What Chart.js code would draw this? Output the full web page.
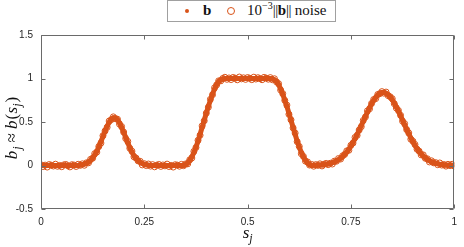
<!DOCTYPE html>
<html>
<head>
<meta charset="utf-8">
<script src="https://cdn.jsdelivr.net/npm/chart.js@4/dist/chart.umd.min.js"></script>
<style>
  html, body { margin: 0; padding: 0; background: #fff; }
  #wrap { position: relative; width: 464px; height: 247px; }
  #legend {
    position: absolute; left: 167px; top: 0px; width: 169px; height: 22px;
    box-sizing: border-box; border: 1px solid #a0a0a0; background: #fff;
    font-family: "Liberation Serif", "DejaVu Serif", serif; font-size: 15px; color: #111;
    white-space: nowrap; z-index: 2;
  }
  #legend span.t { position: absolute; top: 1px; }
  .dot { position: absolute; width: 4px; height: 4px; border-radius: 50%; background: #D95319; left: 17px; top: 8px; }
  .circ { position: absolute; width: 6px; height: 6px; border-radius: 50%; border: 1.3px solid #D95319; left: 59px; top: 6px; }
  sup { font-size: 10px; vertical-align: 6px; line-height: 0; }
  .bar { letter-spacing: -0.5px; }
</style>
</head>
<body>
<div id="wrap">
  <canvas id="c" width="464" height="247"></canvas>
  <div id="legend">
    <div class="dot"></div><span class="t" style="left:35px;font-weight:bold;">b</span>
    <div class="circ"></div><span class="t" style="left:79px;">10<sup>−3</sup><span class="bar">||</span><b>b</b><span class="bar">||</span> noise</span>
  </div>
</div>
<script>
// sample points s_j
const sVals = [
0.000,0.005,0.010,0.015,0.020,0.025,0.030,0.035,0.040,0.045,0.050,0.055,0.060,0.065,0.070,0.075,0.080,0.085,0.090,
0.095,0.100,0.105,0.110,0.115,0.120,0.125,0.130,0.135,0.140,0.145,0.150,0.155,0.160,0.165,0.170,0.175,0.180,0.185,0.190,
0.195,0.200,0.205,0.210,0.215,0.220,0.225,0.230,0.235,0.240,0.245,0.250,0.255,0.260,
0.265,0.270,0.275,0.280,0.285,0.290,0.295,0.300,0.305,0.310,0.315,0.320,0.325,0.330,0.335,0.340,0.345,
0.350,0.355,0.360,0.365,0.370,0.375,0.380,0.385,0.390,0.395,0.400,0.405,0.410,0.415,0.420,0.425,0.430,0.435,0.440,
0.445,0.450,0.455,0.460,0.465,0.470,0.475,0.480,0.485,0.490,0.495,0.500,0.505,0.510,0.515,0.520,0.525,0.530,0.535,0.540,0.545,0.550,0.555,
0.560,0.565,0.570,0.575,0.580,0.585,0.590,0.595,0.600,0.605,0.610,0.615,0.620,0.625,0.630,0.635,0.640,0.645,0.650,
0.655,
0.660,0.665,0.670,0.675,0.680,0.685,0.690,0.695,0.700,0.705,0.710,0.715,0.720,0.725,0.730,0.735,0.740,0.745,0.750,0.755,
0.760,0.765,0.770,0.775,0.780,0.785,0.790,0.795,0.800,0.805,0.810,0.815,0.820,0.825,0.830,0.835,0.840,0.845,0.850,0.855,
0.860,0.865,0.870,0.875,0.880,0.885,0.890,0.895,0.900,0.905,0.910,0.915,0.920,0.925,0.930,0.935,0.940,0.945,0.950,0.955,
0.960,0.965,0.970,0.975,0.980,0.985,0.990,0.995,1.000
];
// exact values b
const bVals = [
0,0,0,0,0,0,0,0,0,0,0,0,0,0,0,0,0,0,0,
0.006,0.009,0.016,0.025,0.039,0.059,0.086,0.121,0.164,0.215,0.273,0.334,0.395,0.451,0.498,0.532,0.548,0.547,0.526,0.490,
0.440,0.383,0.321,0.261,0.204,0.155,0.113,0.080,0.055,0.036,0.023,0.014,0.008,0.004,
0,0,0,0,0,0,0,0,0,0,0,0,0,0,0,0,0,
0.01,0.03,0.06,0.10,0.15,0.21,0.28,0.36,0.44,0.52,0.60,0.68,0.75,0.82,0.88,0.93,0.965,0.985,0.995,
1,1,1,1,1,1,1,1,1,1,1,1,1,1,1,1,1,1,1,1,1,1,1,
0.995,0.985,0.965,0.93,0.88,0.82,0.75,0.68,0.60,0.52,0.44,0.36,0.28,0.21,0.15,0.10,0.06,0.03,0.01,
0,
0.002,0.003,0.004,0.005,0.007,0.010,0.013,0.018,0.024,0.032,0.041,0.053,0.067,0.084,0.105,0.129,0.156,0.188,0.224,0.264,
0.308,0.355,0.405,0.457,0.509,0.562,0.614,0.663,0.709,0.749,0.783,0.810,0.828,0.838,0.839,0.831,0.814,0.789,0.756,0.717,
0.673,0.624,0.573,0.520,0.467,0.415,0.365,0.317,0.273,0.232,0.195,0.163,0.134,0.109,0.088,0.070,0.055,0.043,0.033,0.025,
0.019,0.014,0.011,0.008,0.006,0.004,0.003,0.002,0.002
];
// noisy values (b + 1e-3*||b|| noise)
const noisyVals = [
0.008,-0.012,0.004,-0.018,0.011,0.002,-0.006,0.015,-0.009,0.001,-0.014,0.007,0.012,-0.003,-0.016,0.009,0.005,-0.011,0.014,
0.002,0.019,0.003,0.031,0.031,0.071,0.084,0.136,0.154,0.219,0.258,0.343,0.397,0.439,0.511,0.527,0.559,0.538,0.532,0.476,
0.448,0.384,0.310,0.277,0.198,0.165,0.100,0.085,0.053,0.048,0.007,0.021,-0.001,0.017,
-0.007,0.010,-0.015,0.003,0.012,-0.010,0.006,-0.004,0.016,-0.012,0.001,-0.018,0.009,0.004,-0.008,0.013,-0.002,
0.018,0.019,0.065,0.086,0.162,0.207,0.289,0.348,0.455,0.514,0.602,0.670,0.761,0.813,0.893,0.926,0.973,0.973,1.001,
1.014,0.991,1.006,0.988,1.012,1.003,0.985,1.017,0.996,1.008,0.990,1.011,1.002,0.987,1.015,0.994,1.009,0.998,0.986,1.013,1.004,0.992,1.010,
0.986,0.997,0.961,0.940,0.867,0.827,0.748,0.694,0.589,0.525,0.432,0.373,0.274,0.219,0.135,0.104,0.050,0.041,0.005,
0.012,
-0.008,0.010,0.001,0.019,-0.005,0.015,0.024,0.010,0.026,0.017,0.050,0.049,0.080,0.074,0.111,0.128,0.168,0.175,0.232,0.258,
0.323,0.346,0.408,0.446,0.519,0.557,0.628,0.651,0.713,0.758,0.769,0.816,0.826,0.849,0.831,0.844,0.804,0.790,0.768,0.710,
0.660,0.632,0.578,0.509,0.481,0.412,0.374,0.302,0.279,0.242,0.187,0.165,0.122,0.122,0.083,0.077,0.041,0.054,0.031,0.033,
0.009,0.029,0.005,0.011,-0.007,0.013,-0.001,0.014,-0.007
];
const xTickVals = [0, 0.25, 0.5, 0.75, 1];
const xTickLabels = ['0', '0.25', '0.5', '0.75', '1'];
const yTickVals = [-0.5, 0, 0.5, 1, 1.5];
const yTickLabels = ['-0.5', '0', '0.5', '1', '1.5'];

const ORANGE = '#D95319';
const AXIS = '#6a6a6a';

function drawRuns(ctx, runs, x, y) {
  // runs: [text, font, dy, extraGapAfter]
  let total = 0;
  runs.forEach(r => { ctx.font = r[1]; total += ctx.measureText(r[0]).width + (r[3] || 0); });
  let cx = x - total / 2;
  runs.forEach(r => {
    ctx.font = r[1];
    ctx.fillText(r[0], cx, y + (r[2] || 0));
    cx += ctx.measureText(r[0]).width + (r[3] || 0);
  });
}

const frame = {
  id: 'frame',
  afterDraw(chart) {
    const {ctx, chartArea: a, scales} = chart;
    const L = Math.round(a.left) + 0.5, R = Math.round(a.right) - 0.5;
    const T = Math.round(a.top) + 0.5, B = Math.round(a.bottom) - 0.5;
    ctx.save();
    ctx.strokeStyle = AXIS; ctx.lineWidth = 1;
    ctx.beginPath();
    ctx.rect(L, T, R - L, B - T);
    const tl = 4;
    xTickVals.forEach(v => {
      const px = Math.round(scales.x.getPixelForValue(v)) + 0.5;
      ctx.moveTo(px, B); ctx.lineTo(px, B - tl);
      ctx.moveTo(px, T); ctx.lineTo(px, T + tl);
    });
    yTickVals.forEach(v => {
      const py = Math.round(scales.y.getPixelForValue(v)) + 0.5;
      ctx.moveTo(L, py); ctx.lineTo(L + tl, py);
      ctx.moveTo(R, py); ctx.lineTo(R - tl, py);
    });
    ctx.stroke();

    // axis titles
    ctx.fillStyle = '#111';
    ctx.textBaseline = 'alphabetic';
    const it = 'italic 17px "Liberation Serif", "DejaVu Serif", serif';
    const sub = 'italic 12px "Liberation Serif", "DejaVu Serif", serif';
    const rm = '17px "Liberation Serif", "DejaVu Serif", serif';
    drawRuns(ctx, [['s', it, 0], ['j', sub, 4]], (a.left + a.right) / 2, 238);
    ctx.translate(17, 128);
    ctx.rotate(-Math.PI / 2);
    drawRuns(ctx, [['b', it, 0, 1], ['j', sub, 4, 4], ['≈', rm, 0, 4], ['b', it, 0, 1], ['(', rm, 0, 0.5], ['s', it, 0], ['j', sub, 4, 1], [')', rm, 0]], 0, 0);
    ctx.restore();
  }
};

new Chart(document.getElementById('c'), {
  type: 'scatter',
  data: {
    datasets: [
      {
        label: 'b',
        data: sVals.map((s, i) => ({x: s, y: bVals[i]})),
        showLine: true,
        borderColor: ORANGE,
        borderWidth: 5,
        backgroundColor: ORANGE,
        pointRadius: 2.5,
        pointBorderWidth: 0,
        order: 2
      },
      {
        label: 'noise',
        data: sVals.map((s, i) => ({x: s, y: noisyVals[i]})),
        showLine: false,
        borderColor: ORANGE,
        backgroundColor: 'rgba(0,0,0,0)',
        pointRadius: 3,
        pointBorderWidth: 1,
        order: 1
      }
    ]
  },
  options: {
    responsive: false,
    animation: false,
    events: [],
    layout: { padding: { top: 35, right: 3, left: 0, bottom: 0 } },
    plugins: { legend: { display: false }, tooltip: { enabled: false } },
    scales: {
      x: {
        type: 'linear', min: 0, max: 1,
        afterBuildTicks: s => { s.ticks = xTickVals.map(v => ({value: v})); },
        ticks: {
          callback: v => xTickLabels[xTickVals.indexOf(v)],
          font: { family: '"Liberation Sans", Arial, sans-serif', size: 10 },
          color: '#262626', padding: 7, maxRotation: 0
        },
        grid: { display: false, drawTicks: false },
        border: { display: false },
        afterFit: s => { s.height = 38; }
      },
      y: {
        type: 'linear', min: -0.5, max: 1.5,
        afterBuildTicks: s => { s.ticks = yTickVals.map(v => ({value: v})); },
        ticks: {
          callback: v => yTickLabels[yTickVals.indexOf(v)],
          font: { family: '"Liberation Sans", Arial, sans-serif', size: 10 },
          color: '#262626', padding: 8
        },
        grid: { display: false, drawTicks: false },
        border: { display: false },
        afterFit: s => { s.width = 41; }
      }
    }
  },
  plugins: [frame]
});
</script>
</body>
</html>
